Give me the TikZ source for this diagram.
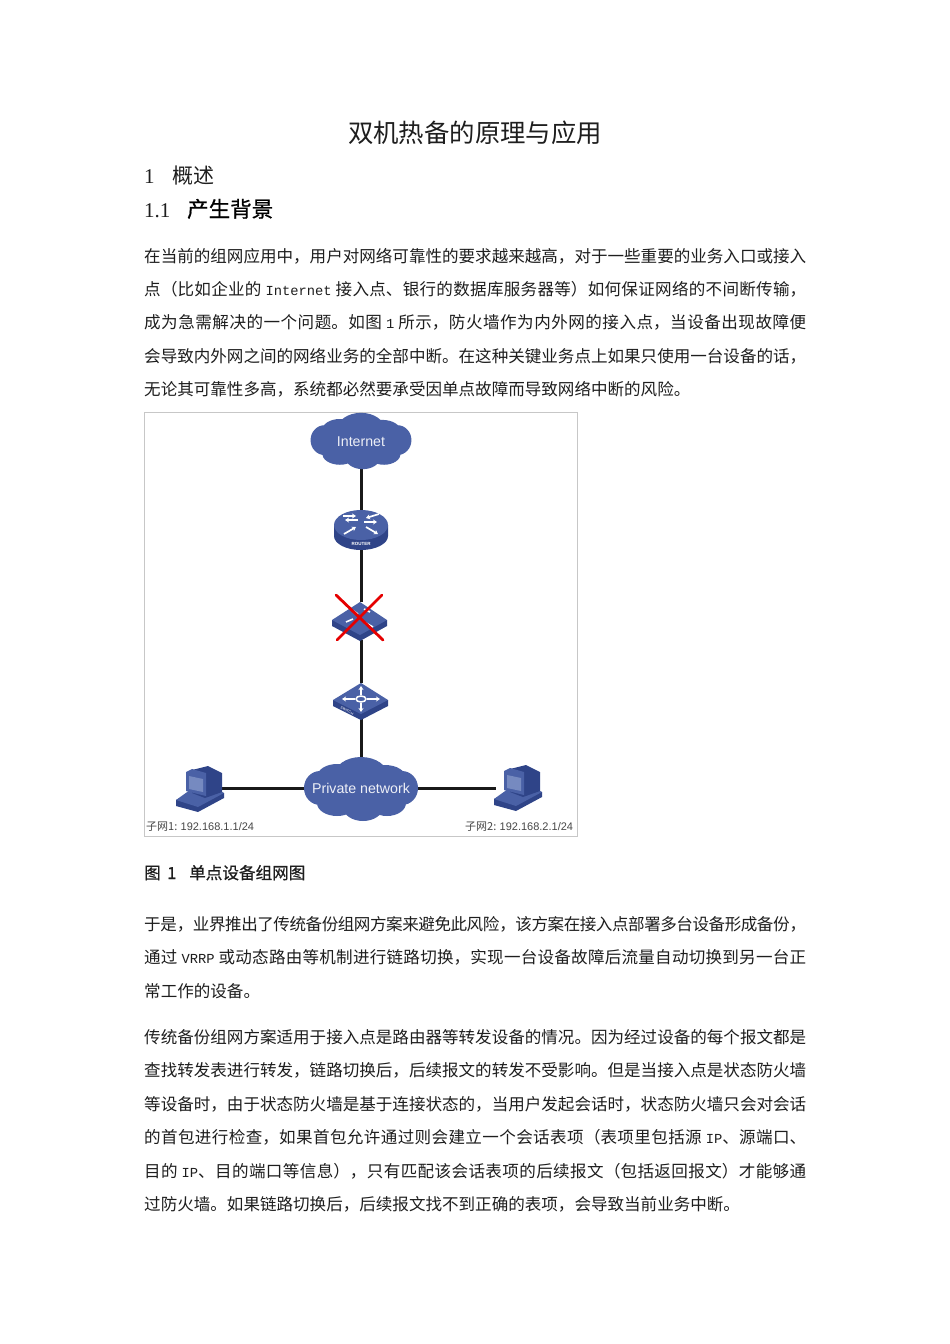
\documentclass[tikz,border=0pt]{standalone}
\usepackage{fontspec}
\usetikzlibrary{arrows.meta}
\setmainfont{Noto Sans CJK SC}
\newfontfamily\semi{Noto Sans CJK SC}[FakeBold=0.8]
\newfontfamily\lat{Liberation Mono}[Scale=0.833]
\newfontfamily\ser{Liberation Serif}
\newfontfamily\san{Liberation Sans}
\XeTeXlinebreaklocale "zh"
\XeTeXlinebreakskip=0pt plus 3pt minus 1pt
\newcommand{\cm}{^^^^ff0c}
\newcommand{\lp}{^^^^ff08}
\newcommand{\rp}{^^^^ff09}
\definecolor{netblue}{HTML}{4A61A6}
\definecolor{darkblue}{HTML}{2F4488}
\definecolor{midblue}{HTML}{5E75B5}
\definecolor{inkc}{HTML}{1E1E1E}
\tikzset{
  bodyline/.style={anchor=base west,inner sep=0pt,font=\fontsize{16.55}{17}\selectfont,text=inkc},
  cloudtext/.style={inner sep=0pt,text=white!90!netblue,font=\san\fontsize{14.2}{15}\selectfont},
  device/.style={inner sep=0pt,draw=none},
  link/.style={line width=3pt,draw=black!90},
  wh/.style={white,line width=1.7pt,-{Stealth[length=4pt,width=5pt]}},
  sublabel/.style={anchor=base west,inner sep=0pt,text=black!72,font=\fontsize{11}{12}\selectfont}
}
\newcommand{\Full}[1]{\parbox[b]{662pt}{\parindent=0pt\parfillskip=0pt\relax #1}}
\newcommand{\gp}{\kern4pt\relax}
\newcommand{\clouddraw}[4]{%
 \begin{scope}[shift={(#1,#2)},xscale=#3,yscale=#4]
  \fill[netblue] (0,0) ellipse[x radius=47,y radius=24]
   (0,-13) ellipse[x radius=27,y radius=19]
   (-24,-12) ellipse[x radius=20,y radius=13]
   (24,-11) ellipse[x radius=21,y radius=13]
   (-41,-1) ellipse[x radius=16,y radius=17]
   (41,-1) ellipse[x radius=16,y radius=17]
   (-24,14) ellipse[x radius=20,y radius=13]
   (2,18) ellipse[x radius=20,y radius=14]
   (26,14) ellipse[x radius=19,y radius=13];
 \end{scope}}
\newcommand{\pcdraw}[2]{%
 \begin{scope}[shift={(#1,#2)}]
  \fill[darkblue] (-24,16) -- (-2,22) -- (24,8) -- (24,3) -- (4,-3) -- (-24,10) -- cycle;
  \fill[netblue] (-24,10) -- (-2,17) -- (24,3) -- (6,-5) -- (-10,0) -- cycle;
  \fill[darkblue] (-8,-20) -- (8,-24) -- (22,-17) -- (22,2) -- (5,8) -- (-8,3) -- cycle;
  \fill[netblue] (-14,-18) -- (-8,-21) -- (6,-17) -- (6,6) -- (-14,1) -- cycle;
  \fill[midblue!85!white] (-11,-14) -- (3,-11) -- (3,2) -- (-11,-1) -- cycle;
 \end{scope}}
\begin{document}
\begin{tikzpicture}[x=1pt,y=-1pt]
\useasboundingbox (0,0) rectangle (950,1344);
\fill[white] (0,0) rectangle (950,1344);

% text
\node[anchor=base,inner sep=0pt,font=\fontsize{25.4}{26}\selectfont,text=inkc] (title) at (475,142) {双机热备的原理与应用};
\node[anchor=base west,inner sep=0pt,font=\ser\fontsize{21}{22}\selectfont,text=inkc] (h1n) at (144,183) {1};
\node[anchor=base west,inner sep=0pt,font=\fontsize{21}{22}\selectfont,text=inkc] (h1t) at (172,183) {概述};
\node[anchor=base west,inner sep=0pt,font=\ser\fontsize{21}{22}\selectfont,text=inkc] (h2n) at (144,217) {1.1};
\node[anchor=base west,inner sep=0pt,font=\semi\fontsize{21.5}{22}\selectfont,text=black] (h2t) at (187,217) {产生背景};

\node[bodyline] (l1) at (144,262) {\Full{在当前的组网应用中\cm 用户对网络可靠性的要求越来越高\cm 对于一些重要的业务入口或接入}};
\node[bodyline] (l2) at (144,295) {\Full{点\lp 比如企业的\gp{\lat Internet}\gp 接入点、银行的数据库服务器等\rp 如何保证网络的不间断传输\cm}};
\node[bodyline] (l3) at (144,328) {\Full{成为急需解决的一个问题。如图\gp{\lat 1}\gp 所示\cm 防火墙作为内外网的接入点\cm 当设备出现故障便}};
\node[bodyline] (l4) at (144,362) {\Full{会导致内外网之间的网络业务的全部中断。在这种关键业务点上如果只使用一台设备的话\cm}};
\node[bodyline] (l5) at (144,395) {无论其可靠性多高\cm 系统都必然要承受因单点故障而导致网络中断的风险。};

% figure frame
\node[draw=black!22,line width=0.8pt,minimum width=433pt,minimum height=424pt,inner sep=0pt] (frame) at (360.5,624) {};

% devices as anchors
\node[device,minimum width=96pt,minimum height=52pt] (internet) at (361,442) {};
\node[device,minimum width=54pt,minimum height=38pt] (router) at (361,530) {};
\node[device,minimum width=54pt,minimum height=38pt] (fw) at (361,621) {};
\node[device,minimum width=54pt,minimum height=36pt] (sw) at (361,701) {};
\node[device,minimum width=108pt,minimum height=58pt] (private) at (361,788) {};
\node[device,minimum width=44pt,minimum height=40pt] (pc1) at (200,788) {};
\node[device,minimum width=44pt,minimum height=40pt] (pc2) at (518,788) {};

% connectors
\draw[link] (internet.south) -- (router.north);
\draw[link] (router.south) -- (fw.north);
\draw[link] (fw.south) -- (sw.north);
\draw[link] (sw.south) -- (private.north);
\draw[link] (pc1.east) -- (private.west);
\draw[link] (private.east) -- (pc2.west);

% clouds
\clouddraw{361}{441}{0.885}{0.88}
\clouddraw{361}{789}{1}{1}
\node[cloudtext] (internettext) at (internet) {Internet};
\node[cloudtext] (privatetext) at (private) {Private network};

% router
\fill[darkblue] (334,525) -- (334,536) arc[start angle=180,end angle=0,x radius=27,y radius=14] -- (388,525) -- cycle;
\fill[netblue] (361,525) ellipse[x radius=27,y radius=15];
\draw[wh] (343,516) -- (356,516);
\draw[wh] (379,514) -- (366,518);
\draw[wh] (344,534) -- (356,527);
\draw[wh] (366,527) -- (378,534);
\draw[wh] (358,520) -- (345,520);
\draw[wh] (364,522) -- (377,522);
\node[inner sep=0pt,text=white,font=\san\bfseries\fontsize{4.5}{5}\selectfont] (routerlab) at (361,544) {ROUTER};

% firewall
\fill[darkblue] (332,620) -- (332,626) -- (360,641) -- (387,626) -- (387,620) -- cycle;
\fill[netblue] (360,602) -- (387,620) -- (360,635) -- (332,620) -- cycle;
\draw[white,line width=1.6pt] (352,610) -- (358,614) (364,609) -- (370,612) (346,622) -- (353,619) (366,623) -- (373,627);
\draw[red!90!black,line width=2.8pt,line cap=round] (336,595) -- (383,640) (382,595) -- (337,640);

% switch
\fill[darkblue] (333,700) -- (333,706) -- (361,720) -- (388,706) -- (388,700) -- cycle;
\fill[netblue] (361,683) -- (388,700) -- (361,714) -- (333,700) -- cycle;
\draw[white,line width=1.5pt] (361,699) ellipse[x radius=5,y radius=3];
\draw[wh] (361,695) -- (361,686);
\draw[wh] (361,703) -- (361,712);
\draw[wh] (355,699) -- (342,699);
\draw[wh] (367,699) -- (380,699);
\node[inner sep=0pt,text=white,rotate=-28,font=\san\fontsize{3.6}{4}\selectfont] (swlab) at (347,711) {SWITCH};

% PCs
\pcdraw{200}{790}
\pcdraw{518}{789}

% labels
\node[sublabel] (s1) at (146,830) {子网1: {\san 192.168.1.1/24}};
\node[sublabel] (s2) at (465,830) {子网2: {\san 192.168.2.1/24}};

% caption
\node[anchor=base west,inner sep=0pt,font=\semi\fontsize{16.6}{17}\selectfont,text=inkc] (c1) at (144,879) {图};
\node[anchor=base west,inner sep=0pt,font=\semi\fontsize{16.6}{17}\selectfont,text=inkc] (c1n) at (167,879) {1};
\node[anchor=base west,inner sep=0pt,font=\semi\fontsize{16.6}{17}\selectfont,text=inkc] (c2) at (189,879) {单点设备组网图};

% paragraphs
\node[bodyline] (m1) at (144,930) {\Full{于是\cm 业界推出了传统备份组网方案来避免此风险\cm 该方案在接入点部署多台设备形成备份\cm}};
\node[bodyline] (m2) at (144,963) {\Full{通过\gp{\lat VRRP}\gp 或动态路由等机制进行链路切换\cm 实现一台设备故障后流量自动切换到另一台正}};
\node[bodyline] (m3) at (144,997) {常工作的设备。};
\node[bodyline] (n1) at (144,1043) {\Full{传统备份组网方案适用于接入点是路由器等转发设备的情况。因为经过设备的每个报文都是}};
\node[bodyline] (n2) at (144,1076) {\Full{查找转发表进行转发\cm 链路切换后\cm 后续报文的转发不受影响。但是当接入点是状态防火墙}};
\node[bodyline] (n3) at (144,1110) {\Full{等设备时\cm 由于状态防火墙是基于连接状态的\cm 当用户发起会话时\cm 状态防火墙只会对会话}};
\node[bodyline] (n4) at (144,1143) {\Full{的首包进行检查\cm 如果首包允许通过则会建立一个会话表项\lp 表项里包括源\gp{\lat IP}、源端口、}};
\node[bodyline] (n5) at (144,1177) {\Full{目的\gp{\lat IP}、目的端口等信息\rp\cm 只有匹配该会话表项的后续报文\lp 包括返回报文\rp 才能够通}};
\node[bodyline] (n6) at (144,1210) {过防火墙。如果链路切换后\cm 后续报文找不到正确的表项\cm 会导致当前业务中断。};
\end{tikzpicture}
\end{document}
